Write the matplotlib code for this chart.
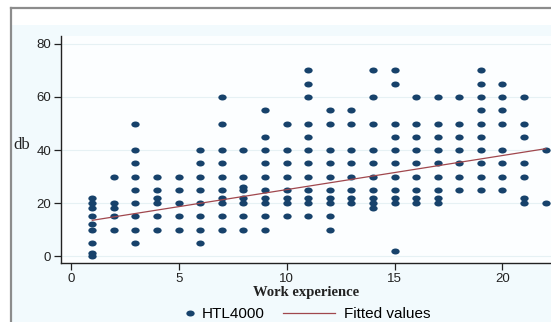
import matplotlib
matplotlib.use("Agg")
import matplotlib.pyplot as plt
from matplotlib.path import Path
from matplotlib.transforms import Affine2D
from matplotlib.patches import Rectangle
from matplotlib.lines import Line2D

# Work experience (years) and db values
work_exp = (
    [1] * 9 + [2] * 5 + [3] * 9 + [4] * 6 + [5] * 5 + [6] * 8 + [7] * 10 + [8] * 8
    + [9] * 10 + [10] * 8 + [11] * 12 + [12] * 10 + [13] * 8 + [14] * 10 + [15] * 11
    + [16] * 9 + [17] * 9 + [18] * 7 + [19] * 10 + [20] * 8 + [21] * 7 + [22] * 2
)
db_values = (
    [22, 20, 18, 15, 12, 10, 5, 1, 0]
    + [30, 20, 18, 15, 10]
    + [50, 40, 35, 30, 25, 20, 15, 10, 5]
    + [30, 25, 22, 20, 15, 10]
    + [30, 25, 20, 15, 10]
    + [40, 35, 30, 25, 20, 15, 10, 5]
    + [60, 50, 40, 35, 30, 25, 22, 20, 15, 10]
    + [40, 30, 26, 25, 22, 20, 15, 10]
    + [55, 45, 40, 35, 30, 25, 22, 20, 15, 10]
    + [50, 40, 35, 30, 25, 22, 20, 15]
    + [70, 65, 60, 50, 45, 40, 35, 30, 25, 22, 20, 15]
    + [55, 50, 40, 35, 30, 25, 22, 20, 15, 10]
    + [55, 50, 40, 35, 30, 25, 22, 20]
    + [70, 60, 50, 40, 35, 30, 25, 22, 20, 18]
    + [70, 65, 50, 45, 40, 35, 30, 25, 22, 20, 2]
    + [60, 50, 45, 40, 35, 30, 25, 22, 20]
    + [60, 50, 45, 40, 35, 30, 25, 22, 20]
    + [60, 50, 45, 40, 35, 30, 25]
    + [70, 65, 60, 55, 50, 45, 40, 35, 30, 25]
    + [65, 60, 55, 50, 40, 35, 30, 25]
    + [60, 50, 45, 35, 30, 22, 20]
    + [40, 20]
)
fit_x = [1, 22]
fit_y = [13.5, 40.5]
x_ticks = [0, 5, 10, 15, 20]
y_ticks = [0, 20, 40, 60, 80]
legend_labels = ["HTL4000", "Fitted values"]

W, H = 551, 322
fig = plt.figure(figsize=(W / 100, H / 100), dpi=100)
fig.patch.set_facecolor("white")

# light blue graph region with grey frame
bg = Rectangle((12 / W, -0.1), 1.0, 1 - 25 / H + 0.1, transform=fig.transFigure,
               facecolor="#f2fafd", edgecolor="none", zorder=-5)
fig.add_artist(bg)
fig.add_artist(Line2D([11 / W, 11 / W], [-0.1, 1 - 8 / H], transform=fig.transFigure,
                      color="#8c8c8c", lw=1.6, zorder=-4))
fig.add_artist(Line2D([11 / W, 1.05], [1 - 8 / H, 1 - 8 / H], transform=fig.transFigure,
                      color="#8c8c8c", lw=1.6, zorder=-4))

ax = fig.add_axes([61 / W, (H - 263) / H, 1 - 61 / W, (263 - 36) / H])
ax.set_zorder(2)
ax.set_facecolor("#fcfeff")

navy = "#17426b"
maroon = "#a0474d"
ell = Path.unit_circle().transformed(Affine2D().scale(1.0, 0.72))

ax.plot(work_exp, db_values, linestyle="none", marker=ell, markersize=6.0,
        color=navy, markeredgewidth=0, zorder=3, clip_on=False)
ax.plot(fit_x, fit_y, color=maroon, lw=0.9, zorder=4)

ax.set_xlim(-0.45, 22.25)
ax.set_ylim(-2.6, 83)
ax.set_xticks(x_ticks)
ax.set_yticks(y_ticks)
ax.set_xticklabels([str(v) for v in x_ticks])
ax.set_yticklabels([str(v) for v in y_ticks])
ax.grid(axis="y", color="#e6f1f4", lw=0.8)
ax.set_axisbelow(True)
for s in ["top", "right"]:
    ax.spines[s].set_visible(False)
for s in ["left", "bottom"]:
    ax.spines[s].set_color("#222222")
    ax.spines[s].set_linewidth(1.0)
ax.tick_params(axis="both", direction="out", length=5, width=0.9, color="#222222",
               labelsize=9.5, labelcolor="#222222", pad=2)
for lbl in ax.get_xticklabels() + ax.get_yticklabels():
    lbl.set_family("Liberation Sans")

ax.set_xlabel("Work experience", family="Liberation Serif", fontsize=10.5,
              fontweight="bold", color="#222222", labelpad=1)
fig.text(22 / W, 1 - 145 / H, "db", family="Liberation Serif", fontsize=12,
         color="#222222", ha="center", va="center")

h_pts = Line2D([], [], linestyle="none", marker=ell, markersize=6.0, color=navy,
               markeredgewidth=0)
h_fit = Line2D([], [], color=maroon, lw=0.9)
leg1 = fig.legend([h_pts], [legend_labels[0]], loc="center left",
                  bbox_to_anchor=(185 / W, 1 - 314 / H), frameon=False,
                  prop={"family": "Liberation Sans", "size": 11}, handlelength=0.7,
                  handletextpad=0.4, borderpad=0, borderaxespad=0)
leg2 = fig.legend([h_fit], [legend_labels[1]], loc="center left",
                  bbox_to_anchor=(283 / W, 1 - 314 / H), frameon=False,
                  prop={"family": "Liberation Sans", "size": 11}, handlelength=3.4,
                  handletextpad=0.6, borderpad=0, borderaxespad=0)

fig.savefig("out.png", dpi=100)
